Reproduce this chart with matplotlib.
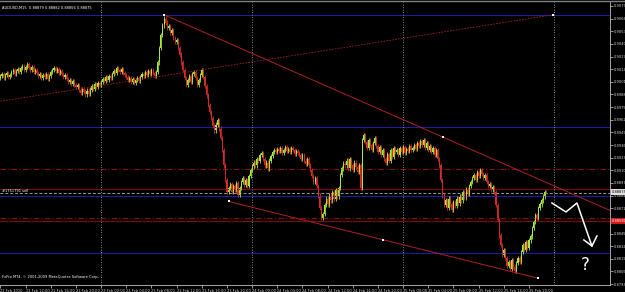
import matplotlib

matplotlib.use("Agg")

import matplotlib.pyplot as plt
import matplotlib.transforms as mtransforms
from matplotlib.lines import Line2D

# AUDUSD M15 closes, bar 0 = 22 Feb 2010 08:00
closes = [
    0.9007, 0.9009, 0.9005, 0.9008, 0.9010, 0.9006, 0.9008,
    0.9011, 0.9013, 0.9009, 0.9012, 0.9014, 0.9011,
    0.9015, 0.9017, 0.9013, 0.9016, 0.9019, 0.9015, 0.9013, 0.9016, 0.9011, 0.9013,
    0.9010, 0.9007, 0.9009, 0.9005, 0.9008, 0.9006, 0.9009, 0.9004, 0.9007,
    0.9011, 0.9013, 0.9015, 0.9012, 0.9014, 0.9010, 0.9012,
    0.9009, 0.9006, 0.9008, 0.9004, 0.9001, 0.9003, 0.8999, 0.9002, 0.8998,
    0.8996, 0.8998, 0.8993, 0.8990, 0.8994, 0.8991, 0.8988, 0.8992, 0.8989, 0.8993,
    0.8997, 0.8994, 0.8999, 0.8996, 0.9000, 0.8998,
    0.9001, 0.9004, 0.9002, 0.9006, 0.9003, 0.9007, 0.9005,
    0.9009, 0.9012, 0.9010, 0.9015, 0.9013, 0.9011, 0.9014, 0.9010, 0.9008,
    0.9006, 0.9003, 0.9005, 0.9001, 0.9004, 0.9000, 0.9003, 0.9005, 0.9002, 0.9006,
    0.9009, 0.9007, 0.9011, 0.9008, 0.9012, 0.9009, 0.9013, 0.9010, 0.9007, 0.9011,
    0.9021, 0.9036, 0.9049, 0.9059, 0.9066,
    0.9062, 0.9056, 0.9058, 0.9051, 0.9054, 0.9046, 0.9042, 0.9044,
    0.9036, 0.9029, 0.9021, 0.9013, 0.9005, 0.8998,
    0.9003, 0.9007, 0.9001, 0.9009, 0.9011, 0.9005, 0.8998, 0.9003, 0.9008, 0.9013, 0.9006, 0.8997,
    0.8987, 0.8977, 0.8970, 0.8964, 0.8956, 0.8951,
    0.8957, 0.8962, 0.8953, 0.8943,
    0.8931, 0.8915, 0.8900, 0.8888,
    0.8892, 0.8896, 0.8888, 0.8894, 0.8890, 0.8897, 0.8885, 0.8892,
    0.8898, 0.8902, 0.8895, 0.8900, 0.8894, 0.8904,
    0.8910, 0.8914, 0.8918, 0.8915, 0.8922, 0.8920, 0.8926, 0.8928,
    0.8922, 0.8915, 0.8918, 0.8912, 0.8920, 0.8925, 0.8929, 0.8931,
    0.8929, 0.8932, 0.8930, 0.8933, 0.8928, 0.8931, 0.8934, 0.8930,
    0.8932, 0.8929, 0.8933, 0.8931, 0.8927, 0.8930, 0.8928, 0.8926,
    0.8922, 0.8926, 0.8920, 0.8917, 0.8922, 0.8915, 0.8910,
    0.8904, 0.8898, 0.8902, 0.8894, 0.8884,
    0.8871, 0.8861, 0.8865,
    0.8874, 0.8881, 0.8875, 0.8884, 0.8879, 0.8888, 0.8881, 0.8890, 0.8883, 0.8892,
    0.8905, 0.8912, 0.8917, 0.8915,
    0.8920, 0.8912, 0.8922, 0.8915, 0.8910, 0.8918, 0.8913, 0.8908, 0.8915, 0.8892,
    0.8941, 0.8946,
    0.8939, 0.8933, 0.8941, 0.8936, 0.8931, 0.8938, 0.8943, 0.8935, 0.8929, 0.8934,
    0.8926, 0.8931, 0.8922, 0.8918, 0.8927, 0.8920, 0.8931, 0.8924, 0.8933, 0.8929,
    0.8931, 0.8926, 0.8933, 0.8929, 0.8934, 0.8928, 0.8932, 0.8930,
    0.8935, 0.8931, 0.8933, 0.8936, 0.8932, 0.8938, 0.8935, 0.8940,
    0.8936, 0.8941, 0.8933, 0.8938, 0.8931, 0.8935, 0.8929, 0.8933, 0.8926, 0.8931, 0.8922, 0.8915,
    0.8900, 0.8884, 0.8874, 0.8879, 0.8871, 0.8881, 0.8875,
    0.8869, 0.8877, 0.8873, 0.8881, 0.8876, 0.8883, 0.8879, 0.8888, 0.8882, 0.8891, 0.8886, 0.8894,
    0.8898, 0.8902, 0.8905, 0.8900, 0.8908, 0.8904, 0.8910, 0.8906, 0.8902, 0.8905,
    0.8898, 0.8894, 0.8896, 0.8890, 0.8893, 0.8888,
    0.8874, 0.8859, 0.8843, 0.8833, 0.8823, 0.8828,
    0.8820, 0.8812, 0.8816, 0.8809, 0.8818, 0.8811, 0.8807, 0.8815, 0.8820, 0.8816,
    0.8826, 0.8833, 0.8828, 0.8836, 0.8830, 0.8838, 0.8842,
    0.8851, 0.8857, 0.8864, 0.8861, 0.8871, 0.8875, 0.8879, 0.8883, 0.8888, 0.88875,
]
first_open = 0.9005

price_ticks = [0.90790, 0.90660, 0.90530, 0.90400, 0.90270, 0.90140, 0.90010, 0.89880,
               0.89750, 0.89620, 0.89490, 0.89360, 0.89230, 0.89100, 0.88970, 0.88840,
               0.88710, 0.88580, 0.88450, 0.88320, 0.88190, 0.88060, 0.87930]
time_tick_bars = list(range(0, 337, 16))
time_labels = ["22 Feb 2010", "22 Feb 12:00", "22 Feb 16:00", "22 Feb 20:00",
               "23 Feb 00:00", "23 Feb 04:00", "23 Feb 08:00", "23 Feb 12:00",
               "23 Feb 16:00", "23 Feb 20:00", "24 Feb 00:00", "24 Feb 04:00",
               "24 Feb 08:00", "24 Feb 12:00", "24 Feb 16:00", "24 Feb 20:00",
               "25 Feb 00:00", "25 Feb 04:00", "25 Feb 08:00", "25 Feb 12:00",
               "25 Feb 16:00", "25 Feb 20:00"]
day_separators = [64, 160, 256, 352]

blue_levels = [0.9070, 0.8955, 0.8884, 0.8825]
red_dashdot_levels = [0.8911, 0.8861]
red_solid_levels = [0.8891, 0.8858]
order_level = 0.8887
bid_price = 0.88875
sl_price = 0.88580

# trendline anchors (bar, price)
channel_top = [(104, 0.9070), (281.5, 0.8944)]
channel_bottom = [(145, 0.8878), (342, 0.8799)]
rising_line = [(0, 0.8981), (351.5, 0.9070)]
doodle = [(350.6, 0.88764), (359.5, 0.88672), (366.5, 0.88764), (376, 0.88322)]
doodle_head = [(370.9, 0.88384), (376, 0.88322), (379.2, 0.88425)]

BULL = "#a8e83c"
BEAR = "#d42a2a"
FONT = 2.6

fig = plt.figure(figsize=(6.25, 2.92), dpi=100, facecolor="black")
ax = fig.add_axes([0, 7 / 292, 610 / 625, 283 / 292], facecolor="black")

opens = [first_open] + closes[:-1]
wick = 0.00022
for i, (o, c) in enumerate(zip(opens, closes)):
    col = BULL if c >= o else BEAR
    ax.vlines(i, min(o, c) - wick, max(o, c) + wick, color=col, linewidth=0.6)
    ax.bar(i, abs(c - o) or 0.00003, bottom=min(o, c), width=0.7, color=col, linewidth=0)

for lv in blue_levels:
    ax.axhline(lv, color="#1c1ca0", linewidth=0.8, zorder=1)
for lv in red_dashdot_levels:
    ax.axhline(lv, color="#8c1010", linewidth=0.8, linestyle=(0, (5, 2, 1, 2)), zorder=1)
for lv in red_solid_levels:
    ax.axhline(lv, color="#7a0c0c", linewidth=0.8, zorder=1)
ax.axhline(order_level, color="#9a9a9a", linewidth=0.7, linestyle=(0, (3, 2)), zorder=1)
for b in day_separators:
    ax.axvline(b, color="#b0b0b0", linewidth=0.6, linestyle=(0, (1, 2)), zorder=1)

xlim = (-0.3, 387.5)


def extend(p0, p1, x_end):
    slope = (p1[1] - p0[1]) / (p1[0] - p0[0])
    return [p0[0], x_end], [p0[1], p0[1] + slope * (x_end - p0[0])]


xs, ys = extend(channel_top[0], channel_top[1], xlim[1])
ax.plot(xs, ys, color="#b02020", linewidth=0.7, zorder=3)
ax.plot(*zip(*channel_bottom), color="#b02020", linewidth=0.7, zorder=3)
ax.plot(*zip(*rising_line), color="#a02020", linewidth=0.6, linestyle=(0, (2, 1.5)), zorder=3)
mid_bottom = ((channel_bottom[0][0] + channel_bottom[1][0]) / 2,
              (channel_bottom[0][1] + channel_bottom[1][1]) / 2)
marks = [channel_top[0], channel_top[1], channel_bottom[0], channel_bottom[1], mid_bottom, rising_line[1]]
ax.plot(*zip(*marks), linestyle="none", marker="s", markersize=1.6, color="white",
        markeredgewidth=0, zorder=4)

ax.plot(*zip(*doodle), color="white", linewidth=1.1, zorder=5)
ax.plot(*zip(*doodle_head), color="white", linewidth=1.1, zorder=5)
ax.text(371.6, 0.88126, "?", color="white", fontsize=12, ha="center", va="center",
        family="DejaVu Sans", zorder=5)

ax.set_xlim(*xlim)
ax.set_ylim(0.87921, 0.90831)

ax.yaxis.tick_right()
ax.set_yticks(price_ticks)
ax.set_yticklabels(["" if abs(p - sl_price) < 1e-6 else f"{p:.5f}" for p in price_ticks])
ax.set_xticks(time_tick_bars)
ax.set_xticklabels(time_labels, ha="left")
ax.tick_params(colors="#d0d0d0", labelsize=FONT, length=2, width=0.5, pad=1)
for s in ("left", "top"):
    ax.spines[s].set_visible(False)
for s in ("right", "bottom"):
    ax.spines[s].set_color("#c0c0c0")
    ax.spines[s].set_linewidth(0.6)

trans = mtransforms.blended_transform_factory(ax.transAxes, ax.transData)
ax.text(1.003, sl_price, f"{sl_price:.5f}", transform=trans, fontsize=FONT, color="white",
        va="center", bbox=dict(boxstyle="square,pad=0.25", fc="#d01818", ec="none"), clip_on=False)
ax.text(1.003, bid_price, f"{bid_price:.5f}", transform=trans, fontsize=FONT, color="black",
        va="center", bbox=dict(boxstyle="square,pad=0.25", fc="#e0e0e0", ec="none"), clip_on=False)

ax.text(0.004, 0.985, "AUDUSD,M15  0.88879 0.88882 0.88856 0.88875", transform=ax.transAxes,
        fontsize=FONT, color="white", va="top")
ax.text(0.004, 0.02, "FxPro MT4, \u00a9 2001-2009 MetaQuotes Software Corp.", transform=ax.transAxes,
        fontsize=FONT, color="white", va="bottom")
ax.text(0.004, order_level, "#1751791 sell", transform=trans, fontsize=FONT, color="white",
        va="bottom")

fig.add_artist(Line2D([0, 1], [0.997, 0.997], color="#808080", linewidth=1.0))

fig.savefig("out.png", dpi=100, facecolor="black")
plt.close(fig)
